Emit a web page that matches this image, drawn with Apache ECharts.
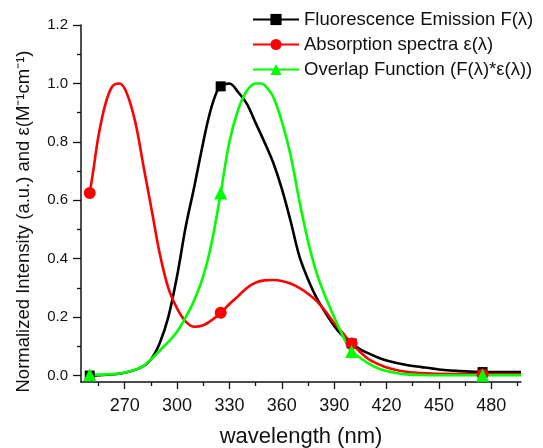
<!DOCTYPE html>
<html><head><meta charset="utf-8">
<script src="https://cdn.jsdelivr.net/npm/echarts@6/dist/echarts.min.js"></script>
<style>html,body{margin:0;padding:0;background:#fff}#c{width:543px;height:448px}</style>
</head><body><div id="c"></div>
<script>
// ---- data ----
const seriesNames = ["Fluorescence Emission F(λ)", "Absorption spectra ε(λ)", "Overlap Function (F(λ)*ε(λ))"];
const markerWavelengths = [250, 325, 400, 475];

const emissionNm  = [250,260,270,280,285,290,295,300,305,310,313,318,322,325,330,335,340,345,350,355,360,365,370,375,380,385,390,395,400,405,410,415,420,430,440,450,460,470,475,485,497];
const emissionVal = [0,0.003,0.01,0.03,0.055,0.11,0.2,0.34,0.51,0.65,0.74,0.88,0.96,0.99,1.0,0.97,0.93,0.865,0.8,0.73,0.64,0.53,0.41,0.33,0.265,0.215,0.17,0.135,0.11,0.09,0.075,0.062,0.052,0.038,0.029,0.021,0.016,0.013,0.012,0.012,0.012];

const absorptionNm  = [250,252,255,259,263,267,271,276,281,286,290,295,300,305,310,315,320,325,330,335,340,345,350,355,360,365,370,375,380,385,390,395,400,405,410,415,420,430,440,450,475,497];
const absorptionVal = [0.625,0.7,0.82,0.93,0.99,1.0,0.97,0.87,0.71,0.55,0.42,0.3,0.23,0.185,0.167,0.172,0.19,0.215,0.245,0.272,0.3,0.318,0.326,0.327,0.324,0.315,0.3,0.28,0.255,0.22,0.18,0.145,0.11,0.08,0.055,0.04,0.028,0.014,0.009,0.006,0.004,0.004];

const overlapNm  = [250,260,270,280,285,290,295,300,305,310,315,320,325,330,335,340,345,348,350,355,360,365,370,375,380,385,390,395,400,405,410,415,420,430,440,450,475,497];
const overlapVal = [0.003,0.004,0.01,0.03,0.055,0.085,0.115,0.15,0.2,0.26,0.34,0.46,0.625,0.8,0.91,0.975,1.0,1.0,0.995,0.955,0.87,0.755,0.6,0.46,0.35,0.27,0.2,0.135,0.082,0.06,0.04,0.025,0.016,0.005,0.002,0.001,0.001,0.001];

const xLabelValues = [270,300,330,360,390,420,450,480];
const xMinorTicks  = [255,285,315,345,375,405,435,465,495];
const yLabelValues = [0,0.2,0.4,0.6,0.8,1.0,1.2];
const yMinorTicks  = [0.1,0.3,0.5,0.7,0.9,1.1];

// ---- chart ----
const zip = (a, b) => a.map((x, i) => [x, b[i]]);
const FONT = 'Liberation Sans, Arial, sans-serif';
const INK = '#111';
const chart = echarts.init(document.getElementById('c'));
function mk(name, nm, vals, color, symbol, size) {
  return {
    name, type: 'line', data: zip(nm, vals), smooth: 0.35,
    symbol, showAllSymbol: true,
    symbolSize: v => markerWavelengths.includes(v[0]) ? size : 0,
    lineStyle: { color, width: 2.6 }, itemStyle: { color },
    emphasis: { disabled: true }, animation: false, z: 2
  };
}
const X_MIN = 245, X_MAX = 497, Y_MIN = -0.022, Y_MAX = 1.2;
chart.setOption({
  animation: false,
  backgroundColor: '#fff',
  grid: { left: 81, right: 22, top: 25, bottom: 66, containLabel: false, outerBoundsMode: 'none' },
  legend: {
    orient: 'vertical', left: 247, top: 5, itemGap: 6,
    itemWidth: 46, itemHeight: 14, itemStyle: {},
    textStyle: { fontFamily: FONT, fontSize: 18.5, color: INK },
    data: seriesNames
  },
  xAxis: [{
    type: 'value', min: X_MIN, max: X_MAX, position: 'bottom',
    name: 'wavelength (nm)', nameLocation: 'middle', nameGap: 44,
    nameTextStyle: { fontFamily: FONT, fontSize: 22, color: INK },
    axisLine: { show: true, onZero: false, lineStyle: { color: INK, width: 1.5 } },
    axisTick: { show: true, length: 7, customValues: xLabelValues, lineStyle: { color: INK, width: 1.3 } },
    axisLabel: { customValues: xLabelValues, fontFamily: FONT, fontSize: 18, color: INK, margin: 15 },
    splitLine: { show: false }
  }, {
    type: 'value', min: X_MIN, max: X_MAX, position: 'bottom',
    axisLine: { show: false, onZero: false },
    axisTick: { show: true, length: 4, customValues: xMinorTicks, lineStyle: { color: INK, width: 1.3 } },
    axisLabel: { show: false }, splitLine: { show: false }
  }],
  yAxis: [{
    type: 'value', min: Y_MIN, max: Y_MAX, position: 'left',
    name: 'Normalized Intensity (a.u.) and ε(M⁻¹cm⁻¹)', nameLocation: 'middle', nameGap: 48,
    nameTextStyle: { fontFamily: FONT, fontSize: 18.5, color: INK, padding: [0, 36, 0, 0] },
    axisLine: { show: true, onZero: false, lineStyle: { color: INK, width: 1.5 } },
    axisTick: { show: true, length: 8, customValues: yLabelValues, lineStyle: { color: INK, width: 1.3 } },
    axisLabel: { customValues: yLabelValues, formatter: v => v.toFixed(1), fontFamily: FONT, fontSize: 15, color: INK, margin: 13 },
    splitLine: { show: false }
  }, {
    type: 'value', min: Y_MIN, max: Y_MAX, position: 'left',
    axisLine: { show: false, onZero: false },
    axisTick: { show: true, length: 4, customValues: yMinorTicks, lineStyle: { color: INK, width: 1.3 } },
    axisLabel: { show: false }, splitLine: { show: false }
  }],
  series: [
    mk(seriesNames[0], emissionNm, emissionVal, '#000000', 'rect', 10),
    mk(seriesNames[1], absorptionNm, absorptionVal, '#ff0000', 'circle', 12),
    mk(seriesNames[2], overlapNm, overlapVal, '#00ff00', 'triangle', 13)
  ]
});
</script></body></html>
